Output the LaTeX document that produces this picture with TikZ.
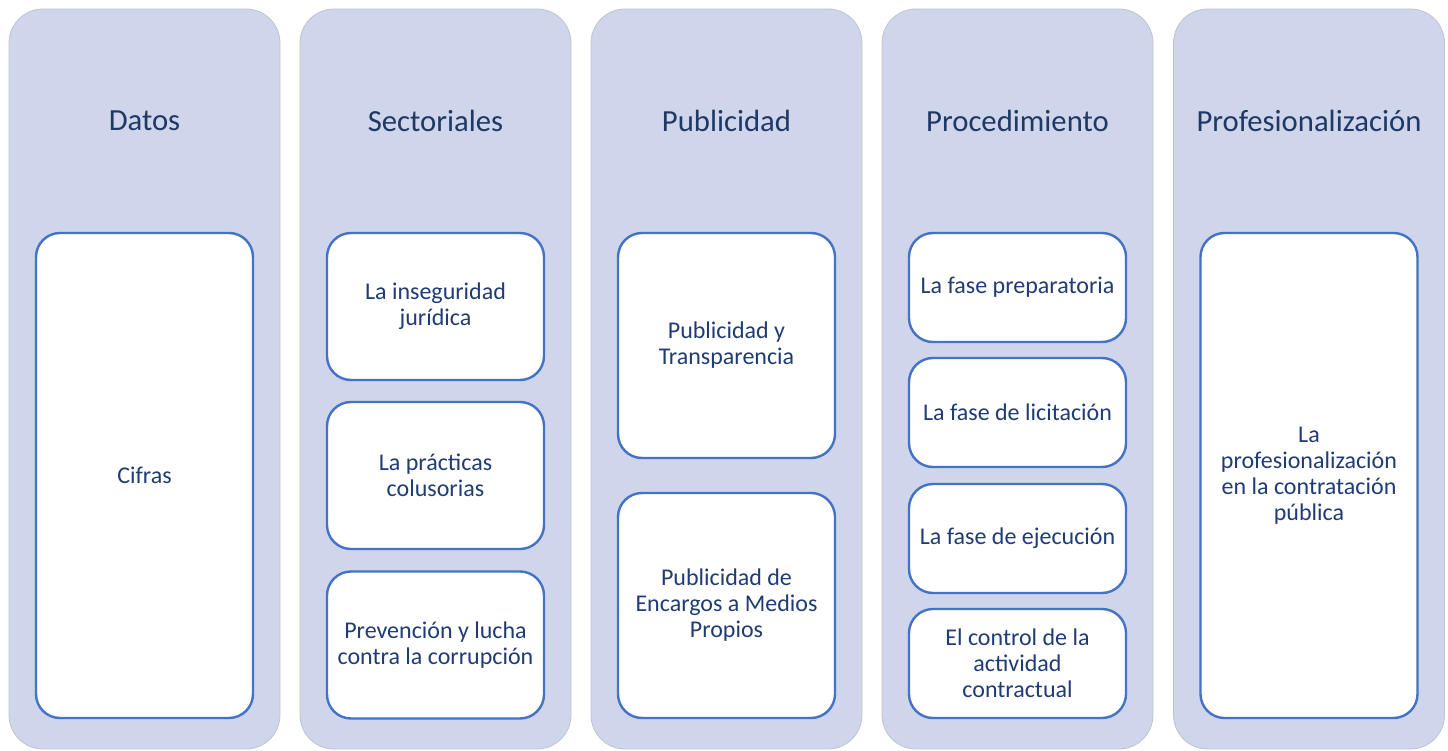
\documentclass[tikz,border=0pt]{standalone}
\usepackage{fontspec}
\setmainfont{Carlito}
\definecolor{colfill}{HTML}{CFD5EA}
\definecolor{coledge}{HTML}{BFC4D2}
\definecolor{boxedge}{HTML}{4472C4}
\definecolor{titleink}{HTML}{1F3864}
\definecolor{boxink}{HTML}{203C74}
\begin{document}
\begin{tikzpicture}[x=1pt,y=-1pt,
  column/.style={draw=coledge,line width=0.8pt,fill=colfill,rounded corners=34pt,
    minimum width=271pt,minimum height=740pt,inner sep=0pt},
  coltitle/.style={text=titleink,font=\fontsize{30.7}{34}\selectfont},
  item/.style={draw=boxedge,line width=2.4pt,fill=white,rounded corners=24pt,
    minimum width=217pt,inner sep=0pt,text=boxink,align=center,
    font=\fontsize{24}{26}\selectfont}]
  \useasboundingbox (0,0) rectangle (1448,751);
  % background columns
  \node[column] (coldatos) at (144.5,379) {};
  \node[column] (colsect) at (435.5,379) {};
  \node[column] (colpubl) at (726.5,379) {};
  \node[column] (colproc) at (1017.5,379) {};
  \node[column] (colprof) at (1309,379) {};
  % column titles
  \node[coltitle] (titdatos) at (144.5,121) {Datos};
  \node[coltitle] (titsect) at (435.5,121) {Sectoriales};
  \node[coltitle] (titpubl) at (726.5,121) {Publicidad};
  \node[coltitle] (titproc) at (1017.5,121) {Procedimiento};
  \node[coltitle] (titprof) at (1309,121) {Profesionalización};
  % Datos
  \node[item,minimum height=485pt] (cifras) at (144.5,475.5) {Cifras};
  % Sectoriales
  \node[item,minimum height=147pt] (insegur) at (435.5,306.5) {La inseguridad\\jurídica};
  \node[item,minimum height=147pt] (colus) at (435.5,475.5) {La prácticas\\colusorias};
  \node[item,minimum height=147pt] (corrup) at (435.5,645) {Prevención y lucha\\contra la corrupción};
  % Publicidad
  \node[item,minimum height=225pt] (transp) at (726.5,345.5) {Publicidad y\\Transparencia};
  \node[item,minimum height=225pt] (encargos) at (726.5,605.5) {Publicidad de\\Encargos a Medios\\Propios};
  % Procedimiento
  \node[item,minimum height=109pt] (prepar) at (1017.5,287.5) {La fase preparatoria};
  \node[item,minimum height=109pt] (licit) at (1017.5,412.5) {La fase de licitación};
  \node[item,minimum height=109pt] (ejec) at (1017.5,538.5) {La fase de ejecución};
  \node[item,minimum height=109pt] (control) at (1017.5,663.5) {El control de la\\actividad\\contractual};
  % Profesionalizacion
  \node[item,minimum height=485pt] (profes) at (1309,475.5) {La\\profesionalización\\en la contratación\\pública};
\end{tikzpicture}
\end{document}
